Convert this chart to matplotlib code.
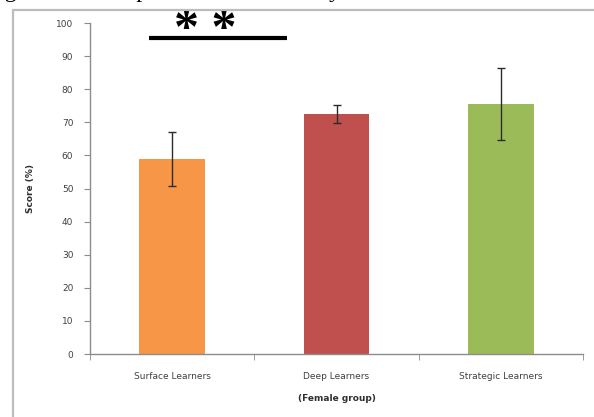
import matplotlib
matplotlib.use("Agg")
import matplotlib.pyplot as plt
from matplotlib.patches import Rectangle

categories = ["Surface Learners", "Deep Learners", "Strategic Learners"]
scores = [59.0, 72.5, 75.5]
errors = [8.2, 2.7, 10.8]
colors = ["#F79646", "#C0504D", "#9BBB59"]
yticks = list(range(0, 101, 10))
sig_pair = (0, 1)
sig_label = "* *"
caption = "Figure 2: Mean performance score by learner cohort"

fig = plt.figure(figsize=(5.94, 4.17), dpi=100)

# caption above the panel, mostly outside the canvas
fig.text(-0.025, 1.0 + 2.5 / 417, caption, family="Liberation Serif", fontsize=17,
         ha="left", va="baseline", color="black")

# light grey frame around the chart area
fig.add_artist(Rectangle((13 / 594, -0.05), 1.2, 1.05 - 9.5 / 417,
                         transform=fig.transFigure, fill=False,
                         edgecolor="#bdbdbd", linewidth=1.6))

ax = fig.add_axes([90 / 594, 1 - 354 / 417, 493 / 594, (354 - 23) / 417])
x = list(range(len(categories)))
ax.bar(x, scores, width=0.4, color=colors, zorder=2)
ax.errorbar(x, scores, yerr=errors, fmt="none", ecolor="#2b2b2b",
            elinewidth=1.0, capsize=3, capthick=1.0, zorder=3)

ax.set_xlim(-0.5, len(categories) - 0.5)
ax.set_ylim(0, 100)
ax.set_yticks(yticks)
ax.set_yticklabels([str(v) for v in yticks], fontsize=6.5, color="#404040")
ax.set_xticks(x)
ax.set_xticklabels(categories, fontsize=6.5, color="#404040")
ax.set_xticks([i - 0.5 for i in range(len(categories) + 1)], minor=True)
ax.tick_params(axis="x", which="major", length=0, pad=13)
ax.tick_params(axis="x", which="minor", length=4, color="#8c8c8c", direction="out")
ax.tick_params(axis="y", length=4, color="#8c8c8c", direction="out", pad=8)

for side in ("top", "right"):
    ax.spines[side].set_visible(False)
for side in ("left", "bottom"):
    ax.spines[side].set_color("#8c8c8c")
    ax.spines[side].set_linewidth(1.0)

ax.set_ylabel("Score (%)", fontsize=6.5, fontweight="bold", color="#303030", labelpad=15)
ax.set_xlabel("(Female group)", fontsize=6.5, fontweight="bold", color="#303030", labelpad=9)

# significance bar between surface and deep learners
x0 = sig_pair[0] - 0.141
x1 = sig_pair[1] - 0.301
ax.plot([x0, x1], [95.5, 95.5], color="black", linewidth=3, solid_capstyle="butt",
        clip_on=False, zorder=4)
ax.text((x0 + x1) / 2 - 0.08, 104.4, sig_label, family="Liberation Serif", fontweight="bold",
        fontsize=36, ha="center", va="top", clip_on=False)

fig.savefig("out.png", dpi=100)
